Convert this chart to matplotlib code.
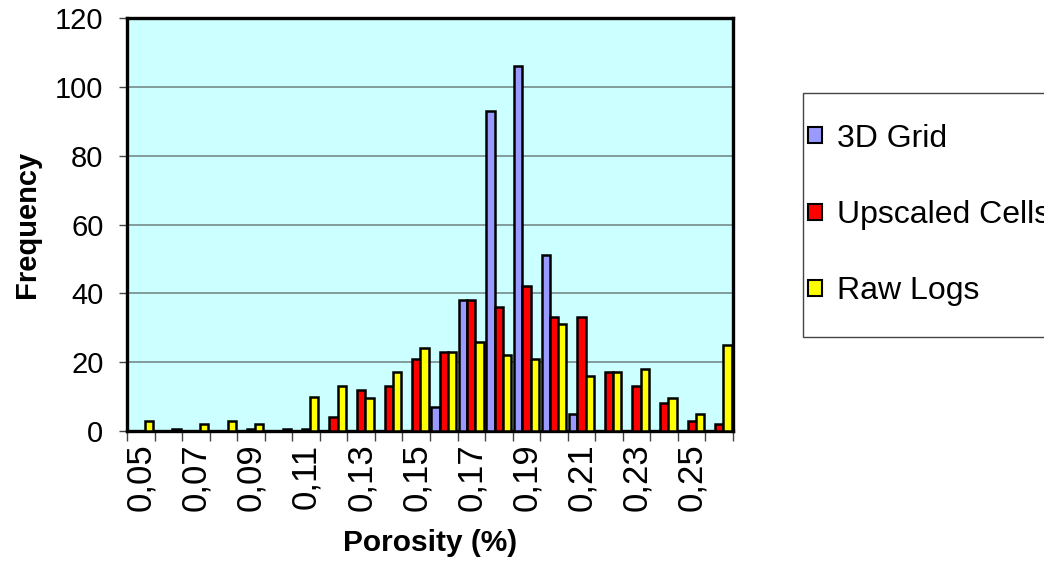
import matplotlib as mpl
import matplotlib.pyplot as plt
from matplotlib.patches import Rectangle
import numpy as np

mpl.rcParams['font.family'] = ['Liberation Sans', 'DejaVu Sans']

# porosity classes and frequencies per source
porosity = [0.05, 0.06, 0.07, 0.08, 0.09, 0.10, 0.11, 0.12, 0.13, 0.14, 0.15,
            0.16, 0.17, 0.18, 0.19, 0.20, 0.21, 0.22, 0.23, 0.24, 0.25, 0.26]
grid_3d = [0, 0, 0, 0, 0, 0, 0, 0, 0, 0, 0,
           7, 38, 93, 106, 51, 5, 0, 0, 0, 0, 0]
upscaled = [0, 0, 0, 0, 0.5, 0, 0.5, 4, 12, 13, 21,
            23, 38, 36, 42, 33, 33, 17, 13, 8, 3, 2]
raw_logs = [3, 0.5, 2, 3, 2, 0.5, 10, 13, 9.5, 17, 24,
            23, 26, 22, 21, 31, 16, 17, 18, 9.5, 5, 25]
series_names = ['3D Grid', 'Upscaled Cells', 'Raw Logs']
tick_labels = [('%.2f' % p).replace('.', ',') for p in porosity]

W, H = 1044, 561
fig = plt.figure(figsize=(W / 100, H / 100), dpi=100)
ax = fig.add_axes([127 / W, 1 - 431 / H, (733 - 127) / W, (431 - 18) / H])
ax.set_facecolor('#CCFFFF')

x = np.arange(len(porosity))
w = 0.3
colors = ['#9999FF', '#FF0000', '#FFFF00']
for i, (vals, c, name) in enumerate(zip([grid_3d, upscaled, raw_logs], colors, series_names)):
    ax.bar(x + (i - 1) * w, vals, width=w, color=c, edgecolor='black',
           linewidth=1.8, label=name, zorder=3)

ax.set_xlim(-0.5, len(porosity) - 0.5)
ax.set_ylim(0, 120)
ax.set_yticks(range(0, 121, 20))
ax.yaxis.grid(True, color='#6f8080', linewidth=1.1, zorder=1)

# tick marks between classes, labels on every other class
ax.set_xticks(np.arange(-0.5, len(porosity), 1))
ax.set_xticklabels([])
ax.set_xticks(x[::2], minor=True)
ax.set_xticklabels(tick_labels[::2], minor=True, rotation=90, fontsize=25)
ax.tick_params(axis='x', which='major', length=7, width=1, color='#444444', direction='out')
ax.tick_params(axis='x', which='minor', length=0, pad=9)
ax.tick_params(axis='y', length=6, width=1, color='#444444', labelsize=21, pad=11)

for s in ax.spines.values():
    s.set_linewidth(2.4)
    s.set_color('black')

ax.set_xlabel('Porosity (%)', fontsize=21.5, fontweight='bold', labelpad=13)
ax.set_ylabel('Frequency', fontsize=21, fontweight='bold', labelpad=10)

# legend box, running off the right edge
fig.patches.append(Rectangle((803 / W, 1 - 337 / H), 260 / W, 244 / H,
                             transform=fig.transFigure, facecolor='white',
                             edgecolor='#444444', linewidth=1.0))
leg = fig.legend(loc='center left', bbox_to_anchor=(808 / W, 1 - 215 / H),
                 fontsize=23, frameon=False, borderpad=0,
                 labelspacing=1.45, handlelength=0.45, handleheight=0.4,
                 handletextpad=0.45, borderaxespad=0)
for h in leg.legend_handles:
    h.set_linewidth(1.5)

fig.savefig('out.png', dpi=100)
